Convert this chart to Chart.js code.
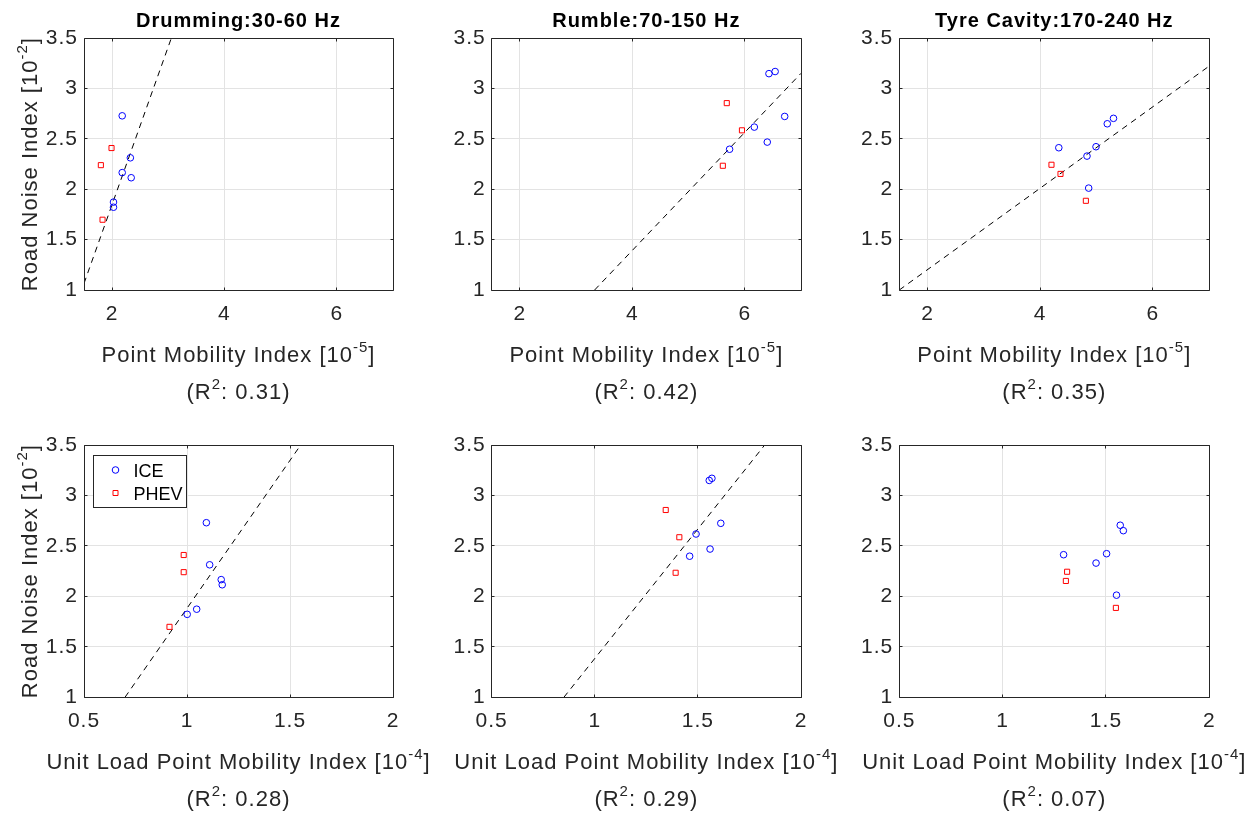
<!DOCTYPE html>
<html>
<head>
<meta charset="utf-8">
<title>Road noise index vs point mobility index</title>
<script src="https://cdn.jsdelivr.net/npm/chart.js@4.4.1/dist/chart.umd.min.js"></script>
<style>
  html, body { margin: 0; padding: 0; background: #fff; overflow: hidden; }
  #wrap { position: relative; width: 1258px; height: 814px; }
  #wrap canvas { position: absolute; }
</style>
</head>
<body>
<div id="wrap">
  <canvas id="p0" width="440" height="415" style="left:0px;top:0px"></canvas>
  <canvas id="p1" width="440" height="415" style="left:415px;top:0px"></canvas>
  <canvas id="p2" width="428" height="415" style="left:830px;top:0px"></canvas>
  <canvas id="p3" width="440" height="399" style="left:0px;top:415px"></canvas>
  <canvas id="p4" width="440" height="399" style="left:415px;top:415px"></canvas>
  <canvas id="p5" width="428" height="399" style="left:830px;top:415px"></canvas>
</div>
<script>
// ---- values ----
var bandTitles = ['Drumming:30-60 Hz', 'Rumble:70-150 Hz', 'Tyre Cavity:170-240 Hz'];
var seriesNames = ['ICE', 'PHEV'];

// road noise index [10^-2], one value per vehicle
var iceNoiseDrum = [2.73, 2.313, 2.166, 2.115, 1.873, 1.822];
var phevNoiseDrum = [2.41, 2.24, 1.698];
var iceNoiseRumble = [3.149, 3.170, 2.724, 2.618, 2.469, 2.398];
var phevNoiseRumble = [2.856, 2.586, 2.234];
var iceNoiseTyre = [2.413, 2.651, 2.705, 2.423, 2.330, 2.012];
var phevNoiseTyre = [2.244, 2.153, 1.886];

// point mobility index [10^-5]
var icePmiDrum = [2.18, 2.325, 2.18, 2.34, 2.025, 2.025];
var phevPmiDrum = [1.99, 1.80, 1.83];
var icePmiRumble = [6.43, 6.54, 6.71, 6.17, 6.40, 5.73];
var phevPmiRumble = [5.68, 5.95, 5.61];
var icePmiTyre = [4.33, 5.19, 5.30, 4.99, 4.83, 4.86];
var phevPmiTyre = [4.20, 4.36, 4.81];

// unit load point mobility index [10^-4]
var iceUlpmiDrum = [1.094, 1.110, 1.166, 1.171, 1.047, 1.001];
var phevUlpmiDrum = [0.984, 0.984, 0.915];
var iceUlpmiRumble = [1.555, 1.568, 1.611, 1.491, 1.559, 1.460];
var phevUlpmiRumble = [1.344, 1.410, 1.392];
var iceUlpmiTyre = [1.295, 1.584, 1.569, 1.503, 1.452, 1.551];
var phevUlpmiTyre = [1.312, 1.306, 1.548];

// dashed fit lines (end points as seen in the plot)
var fitPmiDrumX = [1.5, 3.053], fitPmiDrumY = [1.065, 3.5];
var fitPmiRumbleX = [3.33, 7.0], fitPmiRumbleY = [1.0, 3.152];
var fitPmiTyreX = [1.5, 7.0], fitPmiTyreY = [1.0, 3.225];
var fitUlpmiDrumX = [0.699, 1.552], fitUlpmiDrumY = [1.0, 3.5];
var fitUlpmiRumbleX = [0.850, 1.824], fitUlpmiRumbleY = [1.0, 3.5];

var r2Pmi = ['0.31', '0.42', '0.35'];
var r2Ulpmi = ['0.28', '0.29', '0.07'];

// axes
var pmiRange = [1.5, 7], pmiTicks = [2, 4, 6];
var ulpmiRange = [0.5, 2], ulpmiTicks = [0.5, 1, 1.5, 2];
var noiseRange = [1, 3.5], noiseTicks = [1, 1.5, 2, 2.5, 3, 3.5];

// ---- look ----
var FONT = '"Liberation Sans", Arial, Helvetica, sans-serif';
var AXIS_COLOR = '#262626';
var GRID_COLOR = '#e3e3e3';
var LABEL_FONT = '22px ' + FONT;
var SUP_FONT = '15px ' + FONT;
var SUP_RISE = 10;

// geometry per column / row of the 3x2 grid (canvases overlap a little so long labels fit)
var yAxisWidth = [84, 76.7, 69.3];
var padRight = [47, 54, 48.7];
var rowPadTop = [0, 30];
var xAxisHeight = [125, 116.7];

function pts(xs, ys) {
  return xs.map(function (x, i) { return {x: x, y: ys[i]}; });
}

function drawRich(ctx, segs, x, y) {
  // draws text pieces centred on x, superscripts raised and smaller
  var total = 0;
  segs.forEach(function (s) {
    ctx.font = s.sup ? SUP_FONT : LABEL_FONT;
    s.w = ctx.measureText(s.t).width;
    total += s.w;
  });
  var cx = x - total / 2;
  segs.forEach(function (s) {
    ctx.font = s.sup ? SUP_FONT : LABEL_FONT;
    ctx.fillText(s.t, cx, s.sup ? y - SUP_RISE : y);
    cx += s.w;
  });
}

function crisp(v) { return Math.round(v - 0.5) + 0.5; }

// box, inward ticks, axis labels and legend, matlab style
var panelDecor = {
  id: 'panelDecor',
  beforeDraw: function (chart) { chart.ctx.letterSpacing = '1px'; },
  afterDraw: function (chart, args, o) {
    var ctx = chart.ctx, a = chart.chartArea;
    var sx = chart.scales.x, sy = chart.scales.y;
    var L = crisp(a.left), R = crisp(a.right), T = crisp(a.top), B = crisp(a.bottom);
    ctx.save();
    ctx.strokeStyle = AXIS_COLOR;
    ctx.lineWidth = 1;
    ctx.beginPath();
    ctx.rect(L, T, R - L, B - T);
    var tl = 3;
    sx.ticks.forEach(function (t) {
      var px = crisp(sx.getPixelForValue(t.value));
      ctx.moveTo(px, B); ctx.lineTo(px, B - tl);
      ctx.moveTo(px, T); ctx.lineTo(px, T + tl);
    });
    sy.ticks.forEach(function (t) {
      var py = crisp(sy.getPixelForValue(t.value));
      ctx.moveTo(L, py); ctx.lineTo(L + tl, py);
      ctx.moveTo(R, py); ctx.lineTo(R - tl, py);
    });
    ctx.stroke();

    ctx.fillStyle = AXIS_COLOR;
    ctx.textBaseline = 'alphabetic';
    ctx.textAlign = 'left';
    ctx.letterSpacing = '1px';
    var cx = (a.left + a.right) / 2;
    drawRich(ctx, o.xLabel, cx, a.bottom + 71.5);
    drawRich(ctx, [{t: '(R'}, {t: '2', sup: true}, {t: ': ' + o.r2 + ')'}], cx, a.bottom + 108.5);

    if (o.yLabel) {
      ctx.save();
      ctx.translate(37, (a.top + a.bottom) / 2);
      ctx.rotate(-Math.PI / 2);
      drawRich(ctx, o.yLabel, 0, 0);
      ctx.restore();
    }

    if (o.legend) {
      var bx = Math.round(a.left + 9) + 0.5, by = Math.round(a.top + 10) + 0.5;
      ctx.fillStyle = '#fff';
      ctx.fillRect(bx, by, 93, 52);
      ctx.strokeStyle = AXIS_COLOR;
      ctx.strokeRect(bx, by, 93, 52);
      ctx.letterSpacing = '0px';
      ctx.font = '18px ' + FONT;
      ctx.fillStyle = '#000';
      chart.data.datasets.slice(0, 2).forEach(function (ds, i) {
        var my = by + 14.5 + i * 23;
        ctx.strokeStyle = ds.borderColor;
        ctx.beginPath();
        if (ds.pointStyle === 'circle') {
          ctx.arc(bx + 22, my, ds.pointRadius, 0, Math.PI * 2);
        } else {
          ctx.rect(bx + 19.5, my - 2.5, 5, 5);
        }
        ctx.stroke();
        ctx.fillText(ds.label, bx + 40, my + 6.5);
      });
    }
    ctx.restore();
  }
};

function makePanel(id, col, row, p) {
  var datasets = [
    {
      label: seriesNames[0], data: pts(p.iceX, p.iceY),
      pointStyle: 'circle', pointRadius: 3.3, pointHoverRadius: 3.3,
      borderColor: '#0000ff', backgroundColor: 'rgba(0,0,0,0)', borderWidth: 1
    },
    {
      label: seriesNames[1], data: pts(p.phevX, p.phevY),
      pointStyle: 'rect', pointRadius: 3.6, pointHoverRadius: 3.6,
      borderColor: '#ff0000', backgroundColor: 'rgba(0,0,0,0)', borderWidth: 1
    }
  ];
  if (p.fitX) {
    datasets.push({
      type: 'line', label: 'fit', data: pts(p.fitX, p.fitY),
      showLine: true, pointRadius: 0, borderColor: '#000', borderWidth: 1,
      borderDash: [6, 5], fill: false
    });
  }
  var tickFont = {family: FONT, size: 21};
  new Chart(document.getElementById(id), {
    type: 'scatter',
    data: {datasets: datasets},
    options: {
      responsive: false,
      animation: false,
      devicePixelRatio: 1,
      events: [],
      layout: {padding: {left: 0, right: padRight[col], top: rowPadTop[row], bottom: 0}},
      plugins: {
        legend: {display: false},
        tooltip: {enabled: false},
        title: {
          display: row === 0,
          text: bandTitles[col],
          color: '#000',
          fullSize: false,
          font: {family: FONT, size: 20, weight: 'bold', lineHeight: 1.2},
          padding: {top: 9.2, bottom: 5.1}
        },
        panelDecor: {xLabel: p.xLabel, r2: p.r2, yLabel: col === 0 ? p.yLabel : null, legend: p.legend}
      },
      scales: {
        x: {
          type: 'linear', min: p.xRange[0], max: p.xRange[1],
          afterBuildTicks: function (s) { s.ticks = p.xTicks.map(function (v) { return {value: v}; }); },
          afterFit: function (s) { s.height = xAxisHeight[row]; },
          grid: {color: GRID_COLOR, drawTicks: false},
          border: {display: false},
          ticks: {font: tickFont, color: AXIS_COLOR, padding: 11.5, maxRotation: 0,
                  callback: function (v) { return String(v); }}
        },
        y: {
          type: 'linear', min: noiseRange[0], max: noiseRange[1],
          afterBuildTicks: function (s) { s.ticks = noiseTicks.map(function (v) { return {value: v}; }); },
          afterFit: function (s) { s.width = yAxisWidth[col]; },
          grid: {color: GRID_COLOR, drawTicks: false},
          border: {display: false},
          ticks: {font: tickFont, color: AXIS_COLOR, padding: 6,
                  callback: function (v) { return String(v); }}
        }
      }
    },
    plugins: [panelDecor]
  });
}

var pmiLabel = [{t: 'Point Mobility Index [10'}, {t: '-5', sup: true}, {t: ']'}];
var ulpmiLabel = [{t: 'Unit Load Point Mobility Index [10'}, {t: '-4', sup: true}, {t: ']'}];
var noiseLabel = [{t: 'Road Noise Index [10'}, {t: '-2', sup: true}, {t: ']'}];

makePanel('p0', 0, 0, {iceX: icePmiDrum, iceY: iceNoiseDrum, phevX: phevPmiDrum, phevY: phevNoiseDrum,
  fitX: fitPmiDrumX, fitY: fitPmiDrumY, xRange: pmiRange, xTicks: pmiTicks,
  xLabel: pmiLabel, r2: r2Pmi[0], yLabel: noiseLabel});
makePanel('p1', 1, 0, {iceX: icePmiRumble, iceY: iceNoiseRumble, phevX: phevPmiRumble, phevY: phevNoiseRumble,
  fitX: fitPmiRumbleX, fitY: fitPmiRumbleY, xRange: pmiRange, xTicks: pmiTicks,
  xLabel: pmiLabel, r2: r2Pmi[1]});
makePanel('p2', 2, 0, {iceX: icePmiTyre, iceY: iceNoiseTyre, phevX: phevPmiTyre, phevY: phevNoiseTyre,
  fitX: fitPmiTyreX, fitY: fitPmiTyreY, xRange: pmiRange, xTicks: pmiTicks,
  xLabel: pmiLabel, r2: r2Pmi[2]});
makePanel('p3', 0, 1, {iceX: iceUlpmiDrum, iceY: iceNoiseDrum, phevX: phevUlpmiDrum, phevY: phevNoiseDrum,
  fitX: fitUlpmiDrumX, fitY: fitUlpmiDrumY, xRange: ulpmiRange, xTicks: ulpmiTicks,
  xLabel: ulpmiLabel, r2: r2Ulpmi[0], yLabel: noiseLabel, legend: true});
makePanel('p4', 1, 1, {iceX: iceUlpmiRumble, iceY: iceNoiseRumble, phevX: phevUlpmiRumble, phevY: phevNoiseRumble,
  fitX: fitUlpmiRumbleX, fitY: fitUlpmiRumbleY, xRange: ulpmiRange, xTicks: ulpmiTicks,
  xLabel: ulpmiLabel, r2: r2Ulpmi[1]});
makePanel('p5', 2, 1, {iceX: iceUlpmiTyre, iceY: iceNoiseTyre, phevX: phevUlpmiTyre, phevY: phevNoiseTyre,
  xRange: ulpmiRange, xTicks: ulpmiTicks,
  xLabel: ulpmiLabel, r2: r2Ulpmi[2]});
</script>
</body>
</html>
